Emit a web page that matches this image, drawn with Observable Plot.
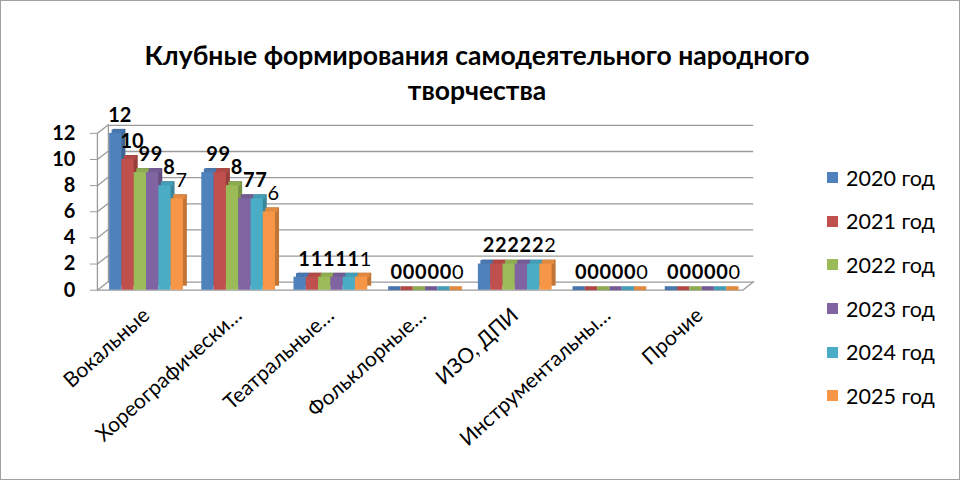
<!DOCTYPE html>
<html>
<head>
<meta charset="utf-8">
<script src="https://cdn.jsdelivr.net/npm/d3@7"></script>
<script src="https://cdn.jsdelivr.net/npm/@observablehq/plot@0.6"></script>
<style>
  html, body { margin: 0; padding: 0; background: #fff; }
  #wrap { position: relative; width: 958px; height: 478px; border: 1px solid #a0a0a0; overflow: hidden; font-family: Lato, "Open Sans", sans-serif; }
  #chart { position: absolute; left: -1px; top: -1px; }
  #title { position: absolute; left: 0; top: 37px; width: 952px; text-align: center; font-weight: bold; font-size: 26.5px; line-height: 35px; color: #000; }
  #legend { position: absolute; left: 826px; top: 155px; }
  .item { height: 43.6px; display: flex; align-items: center; font-size: 21.5px; color: #000; }
  .sw { width: 11px; height: 11px; margin-right: 8px; }
</style>
</head>
<body>
<div id="wrap">
  <div id="chart"></div>
  <div id="title">Клубные формирования самодеятельного народного<br>творчества</div>
  <div id="legend"></div>
</div>
<script>
const categories = ["Вокальные", "Хореографически…", "Театральные…", "Фольклорные…", "ИЗО, ДПИ", "Инструментальны…", "Прочие"];
const years = ["2020 год", "2021 год", "2022 год", "2023 год", "2024 год", "2025 год"];
const v2020 = [12, 9, 1, 0, 2, 0, 0];
const v2021 = [10, 9, 1, 0, 2, 0, 0];
const v2022 = [9, 8, 1, 0, 2, 0, 0];
const v2023 = [9, 7, 1, 0, 2, 0, 0];
const v2024 = [8, 7, 1, 0, 2, 0, 0];
const v2025 = [7, 6, 1, 0, 2, 0, 0];
const yTicks = [0, 2, 4, 6, 8, 10, 12];
const colors = ["#4F81BD", "#C0504D", "#9BBB59", "#8064A2", "#4BACC6", "#F79646"];

const series = [v2020, v2021, v2022, v2023, v2024, v2025];
const groupW = 0.80, barW = groupW / years.length;
const data = [];
series.forEach((vals, yi) => {
  vals.forEach((v, ci) => {
    const x1 = ci - groupW / 2 + yi * barW;
    data.push({cat: categories[ci], ci, year: years[yi], yi, value: v, x1, x2: x1 + barW,
      side: d3.color(colors[yi]).darker(0.7).formatHex(),
      top: d3.color(colors[yi]).darker(0.25).formatHex()});
  });
});

const grid = "#9a9a9a";
const line = {draw(context, l) { context.moveTo(0, 0); context.lineTo(0, -l); }};

const chart = Plot.plot({
  width: 960,
  height: 480,
  marginLeft: 100,
  marginRight: 214,
  marginTop: 133,
  marginBottom: 190,
  style: {fontFamily: "Lato, 'Open Sans', sans-serif", fontSize: "18px", color: "#000", background: "transparent"},
  x: {type: "linear", domain: [-0.5, categories.length - 0.5]},
  y: {domain: [0, 12]},
  color: {domain: years, range: colors},
  marks: [
    Plot.ruleY(yTicks, {x1: -0.5, x2: categories.length - 0.5, dx: 8, dy: -8, stroke: grid, strokeWidth: 1.3}),
    Plot.ruleX([-0.5], {y1: 0, y2: 12, dx: 8, dy: -8, stroke: grid, strokeWidth: 1.3}),
    Plot.ruleX([-0.5], {y1: 0, y2: 12, dx: -3, stroke: grid, strokeWidth: 1.3}),
    Plot.ruleY([0], {x1: -0.5, x2: categories.length - 0.5, dx: -3, stroke: grid, strokeWidth: 1.3}),
    Plot.vector(yTicks, {x: -0.5, y: d => d, dx: -3, length: 14, rotate: 52, anchor: "start", shape: line, stroke: grid, strokeWidth: 1.3}),
    Plot.vector([0], {x: categories.length - 0.5, y: d => d, dx: -3, length: 14, rotate: 52, anchor: "start", shape: line, stroke: grid, strokeWidth: 1.3}),
    Plot.rectY(data, {x1: "x1", x2: "x2", y1: 0, y2: "value", dx: 4, dy: -4, fill: "side"}),
    Plot.link(data, {x1: "x1", x2: "x2", y1: "value", y2: "value", dx: 2, dy: -2, stroke: "top", strokeWidth: 4, strokeLinecap: "butt"}),
    Plot.rectY(data, {x1: "x1", x2: "x2", y1: 0, y2: "value", fill: "year"}),
    Plot.text(data.filter(d => d.yi < 5), {x: d => (d.x1 + d.x2) / 2, y: "value", text: d => String(d.value), dx: 4, dy: -18, fontWeight: "bold", fontSize: 20, fill: "#000"}),
    Plot.text(data.filter(d => d.yi === 5), {x: d => (d.x1 + d.x2) / 2, y: "value", text: d => String(d.value), dx: 4, dy: -18, fontWeight: "normal", fontSize: 20, fill: "#000"}),
    Plot.axisY({ticks: yTicks, tickSize: 7, tickPadding: 15, dx: -3, fontWeight: "bold", fontSize: 20, stroke: grid, label: null, fill: "#000"}),
    Plot.axisX({ticks: categories.map((c, i) => i), tickFormat: i => categories[i], tickSize: 0, tickPadding: 22, tickRotate: -42, fontSize: 21, label: null, fill: "#000"})
  ]
});
document.getElementById("chart").appendChild(chart);

const legend = document.getElementById("legend");
years.forEach((y, i) => {
  const item = document.createElement("div");
  item.className = "item";
  const sw = document.createElement("div");
  sw.className = "sw";
  sw.style.background = colors[i];
  const t = document.createElement("span");
  t.textContent = y;
  item.appendChild(sw);
  item.appendChild(t);
  legend.appendChild(item);
});
</script>
</body>
</html>
